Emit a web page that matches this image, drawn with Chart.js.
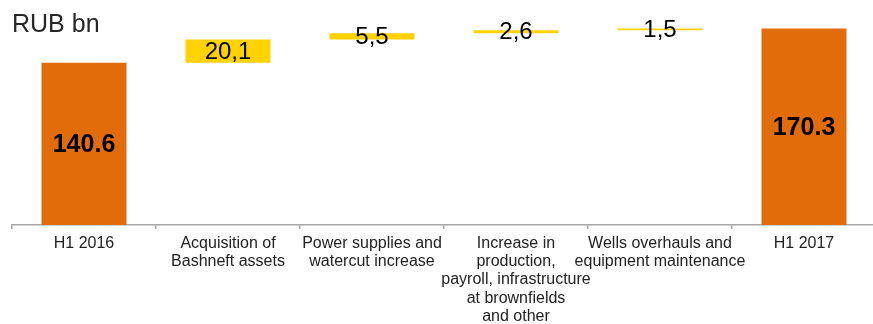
<!DOCTYPE html>
<html>
<head>
<meta charset="utf-8">
<script src="https://cdn.jsdelivr.net/npm/chart.js@4/dist/chart.umd.min.js"></script>
<style>
  html, body { margin: 0; padding: 0; background: #ffffff; overflow: hidden; }
  #wrap { position: relative; width: 880px; height: 324px; }
  #unit {
    position: absolute; left: 12px; top: 11px;
    font-family: 'Liberation Sans', Arial, sans-serif;
    font-size: 25px; line-height: 25px; color: #262626;
  }
</style>
</head>
<body>
<div id="wrap">
  <canvas id="chart" width="880" height="324"></canvas>
  <div id="unit">RUB bn</div>
</div>
<script>
// Operating expenses bridge, H1 2016 -> H1 2017 (RUB bn)
const categories = [
  ["H1 2016"],
  ["Acquisition of", "Bashneft assets"],
  ["Power supplies and", "watercut increase"],
  ["Increase in", "production,", "payroll, infrastructure", "at brownfields", "and other"],
  ["Wells overhauls and", "equipment maintenance"],
  ["H1 2017"]
];
const openingTotal = 140.6;
const changes = [20.1, 5.5, 2.6, 1.5];
const closingTotal = 170.3;

const totalColor = "#E36C0A";
const changeColor = "#FFD200";

// Floating ranges: totals start at zero, each change stacks on the running sum
const ranges = [[0, openingTotal]];
const labels = [openingTotal.toFixed(1)];
const isTotal = [true];
let running = openingTotal;
changes.forEach(v => {
  ranges.push([running, running + v]);
  labels.push(v.toFixed(1).replace(".", ","));
  isTotal.push(false);
  running += v;
});
ranges.push([0, closingTotal]);
labels.push(closingTotal.toFixed(1));
isTotal.push(true);

const FONT = "'Liberation Sans', Arial, sans-serif";

const valueLabels = {
  id: "valueLabels",
  afterDatasetsDraw(chart) {
    const ctx = chart.ctx;
    const meta = chart.getDatasetMeta(0);
    ctx.save();
    ctx.textAlign = "center";
    ctx.textBaseline = "middle";
    ctx.fillStyle = "#000000";
    meta.data.forEach((bar, i) => {
      const cy = (bar.y + bar.base) / 2;
      ctx.font = isTotal[i] ? "bold 25px " + FONT : "24px " + FONT;
      ctx.fillText(labels[i], bar.x, cy + 1);
    });
    ctx.restore();
  }
};

new Chart(document.getElementById("chart"), {
  type: "bar",
  data: {
    labels: categories,
    datasets: [{
      data: ranges,
      backgroundColor: isTotal.map(t => t ? totalColor : changeColor),
      borderWidth: 0,
      categoryPercentage: 1.0,
      barPercentage: 0.59
    }]
  },
  options: {
    responsive: false,
    animation: false,
    layout: { padding: { left: 12, right: 4, top: 0, bottom: 0 } },
    plugins: {
      legend: { display: false },
      tooltip: { enabled: false },
      title: { display: false }
    },
    scales: {
      x: {
        offset: true,
        afterFit(scale) { scale.height = 99; },
        border: { display: true, color: "#a6a6a6", width: 1.5 },
        grid: {
          display: true,
          offset: true,
          drawOnChartArea: false,
          drawTicks: true,
          tickLength: 4,
          color: "#a6a6a6",
          lineWidth: 1.5
        },
        ticks: {
          autoSkip: false,
          maxRotation: 0,
          minRotation: 0,
          padding: 5,
          color: "#222222",
          font: { family: FONT, size: 16, lineHeight: 1.15 }
        }
      },
      y: {
        display: false,
        min: 0,
        max: 195
      }
    }
  },
  plugins: [valueLabels]
});
</script>
</body>
</html>
